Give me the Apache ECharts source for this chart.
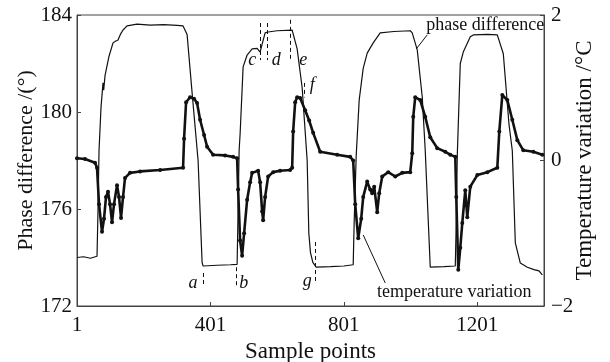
<!DOCTYPE html>
<html>
<head>
<meta charset="utf-8">
<script src="https://cdn.jsdelivr.net/npm/echarts@6/dist/echarts.min.js"></script>
<style>
  html, body { margin: 0; padding: 0; background: #fff; }
  #chart { width: 610px; height: 362px; }
</style>
</head>
<body>
<div id="chart"></div>
<script>
// sample index (0-based, tick labels show index+1)
var xTicks = [0, 400, 800, 1200];
var yLeftTicks = [172, 176, 180, 184];
var yRightTicks = [-2, 0, 2];

// phase difference (deg)
var phaseX = [0, 20, 40, 60, 63, 66, 72, 78, 80, 84, 96, 108, 115, 123, 130, 138, 150, 180, 220, 260,
  300, 318, 330, 345, 363, 375, 378, 420, 460, 480, 483, 486, 489, 498, 510, 525, 540, 549, 555, 564,
  573, 600, 645, 660, 675, 690, 695, 700, 707, 717, 760, 800, 828, 831, 837, 846, 858, 870, 888, 909,
  950, 999, 1005, 1020, 1035, 1044, 1059, 1100, 1134, 1137, 1140, 1149, 1158, 1179, 1188, 1230, 1260, 1278, 1295, 1305,
  1314, 1329, 1350, 1370, 1385, 1395];
var phaseY = [174.0, 174.03, 173.97, 174.05, 176.0, 178.4, 180.2, 181.2, 180.9, 181.5, 182.3, 182.85, 182.92, 182.97, 183.2, 183.38, 183.55, 183.62, 183.58, 183.6,
  183.57, 183.55, 183.2, 180.8, 178.0, 173.8, 173.65, 173.68, 173.7, 173.72, 176.0, 178.4, 179.1, 181.86, 182.35, 182.6, 182.62, 182.47, 182.8, 183.26,
  183.3, 183.35, 183.38, 182.6, 181.0, 178.0, 175.0, 174.2, 173.8, 173.6, 173.62, 173.65, 173.7, 175.5, 178.2, 180.5, 181.8, 182.43, 182.85, 183.26,
  183.32, 183.35, 183.26, 182.56, 180.62, 178.4, 173.6, 173.62, 173.65, 175.5, 178.2, 182.0, 182.47, 183.1, 183.18, 183.2, 183.18, 182.4, 179.5, 178.4,
  174.6, 173.77, 173.6, 173.5, 173.45, 173.28];

// temperature variation (degC)
var tempX = [0, 24, 54, 60, 66, 75, 81, 87, 93, 99, 105, 111, 120, 126, 132, 138, 144, 159, 189, 249,
  318, 321, 327, 339, 351, 360, 369, 381, 390, 408, 444, 468, 480, 483, 489, 495, 501, 510, 519, 525,
  543, 549, 555, 558, 564, 573, 588, 609, 639, 645, 648, 654, 660, 669, 684, 696, 708, 729, 780, 819,
  828, 834, 843, 852, 858, 870, 879, 885, 891, 900, 906, 915, 933, 954, 975, 999, 1005, 1008, 1014, 1029,
  1044, 1059, 1080, 1104, 1119, 1134, 1137, 1143, 1149, 1155, 1164, 1170, 1179, 1200, 1230, 1260, 1266, 1275, 1290, 1305,
  1320, 1338, 1368, 1395];
var tempY = [0.03, 0.02, -0.03, -0.1, -0.6, -0.98, -0.8, -0.5, -0.43, -0.6, -0.85, -0.6, -0.34, -0.5, -0.79, -0.5, -0.24, -0.17, -0.15, -0.13,
  -0.1, 0.3, 0.8, 0.87, 0.85, 0.79, 0.56, 0.35, 0.19, 0.08, 0.07, 0.05, 0.03, -0.4, -1.1, -1.31, -1.0, -0.54, -0.3, -0.17,
  -0.14, -0.3, -0.7, -0.82, -0.5, -0.22, -0.16, -0.14, -0.13, -0.1, 0.4, 0.8, 0.87, 0.86, 0.69, 0.55, 0.38, 0.12, 0.08, 0.05,
  0.0, -0.6, -1.07, -0.8, -0.5, -0.29, -0.4, -0.45, -0.36, -0.71, -0.45, -0.22, -0.16, -0.22, -0.17, -0.16, 0.1, 0.6, 0.87, 0.83,
  0.6, 0.32, 0.17, 0.12, 0.08, 0.05, -0.5, -1.5, -1.2, -0.86, -0.41, -0.78, -0.36, -0.2, -0.16, -0.1, 0.4, 0.9, 0.83, 0.56,
  0.28, 0.14, 0.12, 0.08];

// dashed markers a-g: [x, yTop, yBottom] on the phase axis
var dashX = [377, 476, 714, 549, 570, 639, 681];
var dashTop = [173.36, 173.6, 174.64, 183.67, 183.67, 183.8, 181.2];
var dashBottom = [172.78, 172.78, 172.99, 182.14, 182.14, 182.14, 180.6];
var letters = ['a', 'b', 'g', 'c', 'd', 'e', 'f'];
var letterX = [348, 500, 690, 525, 597, 678, 705];
var letterY = [172.95, 172.95, 173.0, 182.14, 182.14, 182.14, 181.1];

var serif = 'Liberation Serif';
var ink = '#111';

var phaseData = phaseX.map(function (x, i) { return [x, phaseY[i]]; });
var tempData = tempX.map(function (x, i) { return [x, tempY[i]]; });

var lines = [];
dashX.forEach(function (x, i) {
  lines.push([{ coord: [x, dashTop[i]], lineStyle: { type: [4, 3] } }, { coord: [x, dashBottom[i]] }]);
});
// leader lines for the two labels
lines.push([{ coord: [1050, 183.18], lineStyle: { type: 'solid' } }, { coord: [1017, 182.6] }]);
lines.push([{ coord: [924, 172.95], lineStyle: { type: 'solid' } }, { coord: [858, 174.93] }]);

var points = letters.map(function (l, i) {
  return { name: l, coord: [letterX[i], letterY[i]], label: { fontStyle: 'italic' } };
});
points.push({ name: 'phase difference', coord: [1224, 183.59] });
points.push({ name: 'temperature variation', coord: [1131, 172.58] });

var dom = document.getElementById('chart');
var chart = echarts.init(dom);

var option = {
  animation: false,
  backgroundColor: '#fff',
  textStyle: { fontFamily: serif, color: ink },
  grid: {
    left: 77, right: 66, top: 15, bottom: 56,
    outerBoundsMode: 'none',
    containLabel: false,
    show: true, borderColor: '#444', borderWidth: 1
  },
  xAxis: {
    type: 'value',
    min: 0, max: 1400, interval: 400,
    name: 'Sample points',
    nameLocation: 'middle',
    nameMoveOverlap: false,
    nameGap: 34,
    nameTextStyle: { fontFamily: serif, fontSize: 23, color: ink },
    axisLine: { show: true, onZero: false, lineStyle: { color: '#444' } },
    axisTick: { inside: true, length: 4, lineStyle: { color: '#444' } },
    axisLabel: {
      fontFamily: serif, fontSize: 21, color: ink, margin: 9,
      showMaxLabel: false,
      formatter: function (v) { return xTicks.indexOf(v) >= 0 ? String(v + 1) : ''; }
    },
    splitLine: { show: false }
  },
  yAxis: [{
    type: 'value',
    min: yLeftTicks[0], max: yLeftTicks[yLeftTicks.length - 1], interval: 4,
    name: 'Phase difference /(°)',
    nameLocation: 'middle',
    nameMoveOverlap: false,
    nameGap: 40,
    nameTextStyle: { fontFamily: serif, fontSize: 22, color: ink },
    axisLine: { show: true, onZero: false, lineStyle: { color: '#444' } },
    axisTick: { show: true, inside: true, length: 4, lineStyle: { color: '#444' } },
    axisLabel: { fontFamily: serif, fontSize: 21, color: ink, margin: 5 },
    splitLine: { show: false }
  }, {
    type: 'value',
    min: yRightTicks[0], max: yRightTicks[yRightTicks.length - 1], interval: 2,
    name: 'Temperature variation /°C',
    nameLocation: 'middle',
    nameMoveOverlap: false,
    nameGap: 29,
    nameRotate: 90,
    nameTextStyle: { fontFamily: serif, fontSize: 23, color: ink },
    axisLine: { show: true, onZero: false, lineStyle: { color: '#444' } },
    axisTick: { show: true, inside: true, length: 4, lineStyle: { color: '#444' } },
    axisLabel: {
      fontFamily: serif, fontSize: 21, color: ink, margin: 7,
      formatter: function (v) { return v < 0 ? '\u2212' + Math.abs(v) : String(v); }
    },
    splitLine: { show: false }
  }],
  series: [{
    name: 'phase difference',
    type: 'line',
    yAxisIndex: 0,
    data: phaseData,
    showSymbol: false,
    lineStyle: { color: '#111', width: 1.2 },
    markLine: {
      silent: true,
      symbol: ['none', 'none'],
      label: { show: false },
      lineStyle: { color: '#111', width: 1 },
      data: lines
    },
    markPoint: {
      silent: true,
      symbol: 'circle',
      symbolSize: 1,
      itemStyle: { color: 'rgba(0,0,0,0)' },
      label: {
        show: true, position: 'inside', formatter: '{b}',
        fontFamily: serif, fontSize: 18, color: ink
      },
      data: points
    }
  }, {
    name: 'temperature variation',
    type: 'line',
    yAxisIndex: 1,
    data: tempData,
    symbol: 'circle',
    symbolSize: 4,
    showAllSymbol: true,
    itemStyle: { color: '#111' },
    lineStyle: { color: '#111', width: 2.6 }
  }]
};

chart.setOption(option);
</script>
</body>
</html>
